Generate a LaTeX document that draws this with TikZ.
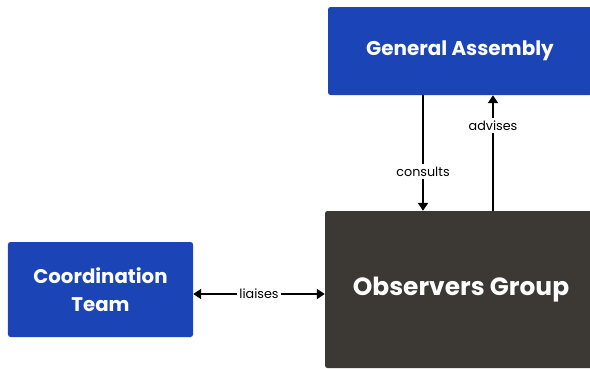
\documentclass[tikz,border=0pt]{standalone}
\usepackage{fontspec}
\setmainfont{Poppins}
\usetikzlibrary{arrows.meta}
\definecolor{boxblue}{HTML}{1B45B7}
\definecolor{boxdark}{HTML}{3C3834}
\begin{document}
\begin{tikzpicture}[x=1bp,y=-1bp,
  box/.style={rectangle, rounded corners=2.5bp, inner sep=0pt, text=white, font=\bfseries, align=center},
  conn/.style={line width=2.5bp, -{Triangle[width=10bp,length=8bp]}},
  lbl/.style={fill=white, inner sep=2.5bp, font=\fontsize{12.8}{15}\selectfont}]
\useasboundingbox (0,0) rectangle (590,368);
\node[box, fill=boxblue, minimum width=264bp, minimum height=88bp, font=\bfseries\fontsize{20}{24}\selectfont] (ga) at (460,51) {General Assembly};
\node[box, fill=boxdark, minimum width=272bp, minimum height=157bp, font=\bfseries\fontsize{25}{30}\selectfont] (og) at (461,289.5) {Observers Group};
\node[box, fill=boxblue, minimum width=185bp, minimum height=95bp, font=\bfseries\fontsize{19.8}{28}\selectfont] (ct) at (100.5,289.5) {Coordination\\Team};
\draw[conn] (ga.south -| 423,0) -- node[lbl, pos=0.66] {consults} (og.north -| 423,0);
\draw[conn] (og.north -| 493,0) -- node[lbl, pos=0.74] {advises} (ga.south -| 493,0);
\draw[conn, {Triangle[width=10bp,length=8bp]}-{Triangle[width=10bp,length=8bp]}] (ct.east |- 0,294) -- node[lbl] {liaises} (og.west |- 0,294);
\end{tikzpicture}
\end{document}
